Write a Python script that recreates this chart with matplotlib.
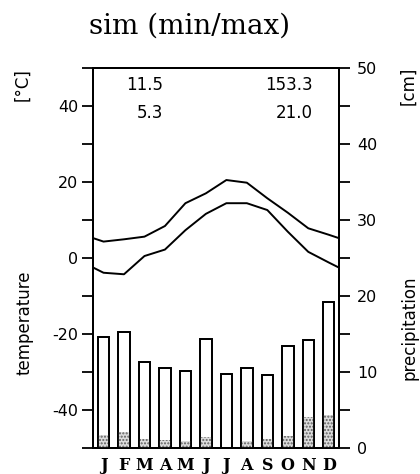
import matplotlib
matplotlib.use("Agg")
import matplotlib.pyplot as plt
import numpy as np

months = ["J", "F", "M", "A", "M", "J", "J", "A", "S", "O", "N", "D"]
t_max = [4.4, 5.0, 5.7, 8.5, 14.5, 17.1, 20.6, 19.9, 15.8, 12.0, 7.9, 6.2]
t_min = [-3.8, -4.2, 0.6, 2.3, 7.4, 11.7, 14.5, 14.5, 12.7, 7.0, 1.7, -1.1]
precip = [14.6, 15.3, 11.3, 10.6, 10.2, 14.4, 9.8, 10.6, 9.6, 13.4, 14.2, 19.3]
snow = [1.8, 2.1, 1.2, 1.1, 1.0, 1.5, 0.1, 0.9, 1.2, 1.6, 4.1, 4.4]
ann_tmax = "11.5"
ann_tmin = "5.3"
ann_precip = "153.3"
ann_snow = "21.0"
title = "sim (min/max)"

plt.rcParams['axes.unicode_minus'] = False
plt.rcParams['hatch.linewidth'] = 1.0

fig = plt.figure(figsize=(4.2, 4.74), dpi=100)
ax = fig.add_axes([0.2221, 0.0542, 0.585, 0.8017])
ax2 = ax.twinx()

x = np.arange(12)
# wrap-around endpoints at the plot edges
xe = np.concatenate([[-0.5], x, [11.5]])
def wrap(v):
    e = (v[0] + v[-1]) / 2.0
    return np.concatenate([[e], v, [e]])

ax.plot(xe, wrap(np.array(t_max)), color="black", lw=1.4)
ax.plot(xe, wrap(np.array(t_min)), color="black", lw=1.4)
ax.set_xlim(-0.5, 11.5)
ax.set_ylim(-50, 50)

bw = 0.56
ax2.bar(x, precip, width=bw, facecolor="white", edgecolor="black", lw=1.3, zorder=2)
ax2.bar(x, snow, width=bw, facecolor="#dcdcdc", edgecolor="#606060", hatch=".....", lw=0, zorder=3)
ax2.bar(x, precip, width=bw, facecolor="none", edgecolor="black", lw=1.3, zorder=4)
ax2.set_ylim(0, 50)

for a in (ax, ax2):
    for s in a.spines.values():
        s.set_linewidth(1.4)

ax.set_yticks(np.arange(-50, 51, 10))
ax.set_yticklabels(["" if v in (-50, -30, -10, 10, 30, 50) else str(v) for v in range(-50, 51, 10)])
ax.tick_params(axis="y", direction="out", length=8, width=1.3, pad=3, labelsize=11.5)
ax.tick_params(axis="x", length=0, pad=6)
ax.set_xticks(x)
ax.set_xticklabels(months, fontfamily="DejaVu Serif", fontweight="bold", fontsize=11.5)

ax2.set_yticks(np.arange(0, 51, 5))
ax2.set_yticklabels([str(v) if v % 10 == 0 else "" for v in range(0, 51, 5)])
ax2.tick_params(axis="y", direction="out", length=8, width=1.3, pad=5, labelsize=11.5)

fig.text(163 / 420, 1 - 85 / 474, ann_tmax, ha="right", va="center", fontsize=12)
fig.text(163 / 420, 1 - 113.5 / 474, ann_tmin, ha="right", va="center", fontsize=12)
fig.text(313 / 420, 1 - 85 / 474, ann_precip, ha="right", va="center", fontsize=12)
fig.text(313 / 420, 1 - 113.5 / 474, ann_snow, ha="right", va="center", fontsize=12)

fig.text(190 / 420, 1 - 26 / 474, title, ha="center", va="center",
         fontfamily="DejaVu Serif", fontsize=20)

fig.text(22 / 420, 1 - 85 / 474, "[°C]", rotation=90, ha="center", va="center", fontsize=12)
fig.text(25 / 420, 1 - 323 / 474, "temperature", rotation=90, ha="center", va="center", fontsize=12)
fig.text(408 / 420, 1 - 86 / 474, "[cm]", rotation=90, ha="center", va="center", fontsize=12)
fig.text(410 / 420, 1 - 328 / 474, "precipitation", rotation=90, ha="center", va="center", fontsize=12)

fig.savefig("out.png", dpi=100)
